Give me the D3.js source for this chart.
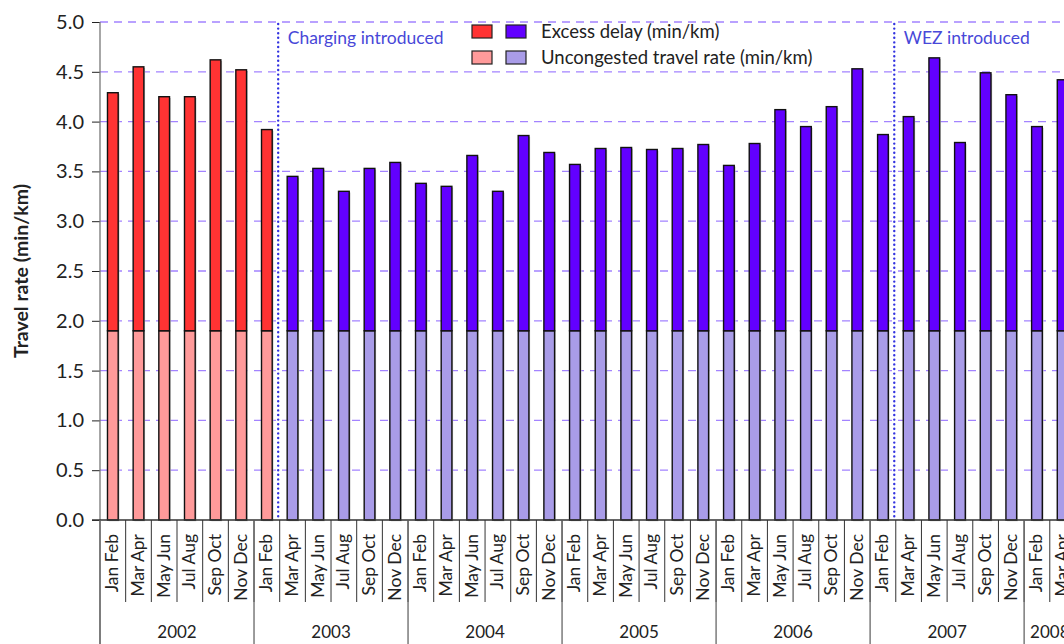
<!DOCTYPE html>
<html>
<head>
<meta charset="utf-8">
<style>
  body { margin: 0; background: white; overflow: hidden; }
  svg { display: block; font-family: Lato, "Open Sans", sans-serif; }
</style>
<script src="https://cdn.jsdelivr.net/npm/d3@7"></script>
</head>
<body>
<svg id="chart"></svg>
<script>
// two-monthly periods, Jan 2002 - Apr 2008
const periods = [
  "Jan Feb","Mar Apr","May Jun","Jul Aug","Sep Oct","Nov Dec",
  "Jan Feb","Mar Apr","May Jun","Jul Aug","Sep Oct","Nov Dec",
  "Jan Feb","Mar Apr","May Jun","Jul Aug","Sep Oct","Nov Dec",
  "Jan Feb","Mar Apr","May Jun","Jul Aug","Sep Oct","Nov Dec",
  "Jan Feb","Mar Apr","May Jun","Jul Aug","Sep Oct","Nov Dec",
  "Jan Feb","Mar Apr","May Jun","Jul Aug","Sep Oct","Nov Dec",
  "Jan Feb","Mar Apr"
]
const years = ["2002","2003","2004","2005","2006","2007","2008"]
const periodsPerYear = [6, 6, 6, 6, 6, 6, 2]

const uncongested = [
  1.9,1.9,1.9,1.9,1.9,1.9, 1.9,1.9,1.9,1.9,1.9,1.9,
  1.9,1.9,1.9,1.9,1.9,1.9, 1.9,1.9,1.9,1.9,1.9,1.9,
  1.9,1.9,1.9,1.9,1.9,1.9, 1.9,1.9,1.9,1.9,1.9,1.9,
  1.9,1.9
]
const excessDelay = [
  2.39,2.65,2.35,2.35,2.72,2.62,
  2.02,1.55,1.63,1.40,1.63,1.69,
  1.48,1.45,1.76,1.40,1.96,1.79,
  1.67,1.83,1.84,1.82,1.83,1.87,
  1.66,1.88,2.22,2.05,2.25,2.63,
  1.97,2.15,2.74,1.89,2.59,2.37,
  2.05,2.52
]
const yTicks = [0, 0.5, 1, 1.5, 2, 2.5, 3, 3.5, 4, 4.5, 5]

// index of first period after each event
const events = [
  {label: "Charging introduced", index: 7},
  {label: "WEZ introduced", index: 31}
]

const width = 1064, height = 644
const plotLeft = 100, plotTop = 22, plotBottom = 520
const step = 25.67

let rows = periods.map((p, i) => ({
  id: i, period: p, base: uncongested[i], excess: excessDelay[i],
  pre: i < events[0].index
}))

let svg = d3.select("#chart").attr("width", width).attr("height", height)

let x = d3.scaleBand()
  .domain(rows.map(d => d.id))
  .range([plotLeft, plotLeft + step * rows.length])

let y = d3.scaleLinear().domain([0, 5]).range([plotBottom, plotTop])

// gridlines
svg.append("g").selectAll("line").data(yTicks.filter(t => t > 0))
  .enter().append("line")
  .attr("x1", plotLeft).attr("x2", width)
  .attr("y1", d => y(d)).attr("y2", d => y(d))
  .attr("stroke", "#a383ff")
  .attr("stroke-width", 1.3)
  .attr("stroke-dasharray", "8,6")

// y axis
let yAxis = d3.axisLeft(y).tickValues(yTicks).tickFormat(d3.format(".1f")).tickSize(8).tickPadding(8)
let ya = svg.append("g").attr("transform", `translate(${plotLeft},0)`).call(yAxis)
ya.select(".domain").remove()
ya.selectAll(".tick line").attr("stroke", "#222")
ya.selectAll("text").attr("font-size", 20).attr("fill", "#222").attr("font-family", "Lato, sans-serif")
svg.append("line").attr("x1", plotLeft).attr("x2", plotLeft).attr("y1", plotTop).attr("y2", height)
  .attr("stroke", "#777").attr("stroke-width", 1.3)

svg.append("text")
  .attr("transform", `translate(28,${(plotTop + plotBottom) / 2}) rotate(-90)`)
  .attr("text-anchor", "middle")
  .attr("font-size", 19.5).attr("font-weight", "bold").attr("fill", "#222")
  .text("Travel rate (min/km)")

// event lines
svg.append("g").selectAll("line").data(events).enter().append("line")
  .attr("x1", d => x(d.index) - 1.5).attr("x2", d => x(d.index) - 1.5)
  .attr("y1", plotTop + 2).attr("y2", plotBottom)
  .attr("stroke", "#3333e0").attr("stroke-width", 2.4)
  .attr("stroke-linecap", "round")
  .attr("stroke-dasharray", "0,4.6")
svg.append("g").selectAll("text").data(events).enter().append("text")
  .attr("x", d => x(d.index) + 8).attr("y", 44)
  .attr("font-size", 17.5).attr("fill", "#4848d8")
  .text(d => d.label)

// bars
let bw = 10.7
let bars = svg.append("g").selectAll("g").data(rows).enter().append("g")
let cx = d => x(d.id) + x.bandwidth() / 2 - bw / 2

bars.append("rect")
  .attr("x", d => cx(d) + 1.2).attr("y", d => y(d.base + d.excess) + 1.2)
  .attr("width", bw).attr("height", d => plotBottom - y(d.base + d.excess))
  .attr("fill", "#bbb")
bars.append("rect")
  .attr("x", cx).attr("y", d => y(d.base))
  .attr("width", bw).attr("height", d => plotBottom - y(d.base))
  .attr("fill", d => d.pre ? "#ff9a9a" : "#a99ce8")
  .attr("stroke", "#111").attr("stroke-width", 1.4)
bars.append("rect")
  .attr("x", cx).attr("y", d => y(d.base + d.excess))
  .attr("width", bw).attr("height", d => y(d.base) - y(d.base + d.excess))
  .attr("fill", d => d.pre ? "#ff3333" : "#6200ff")
  .attr("stroke", "#111").attr("stroke-width", 1.4)

// x axis baseline
svg.append("line").attr("x1", plotLeft - 8).attr("x2", width).attr("y1", plotBottom).attr("y2", plotBottom)
  .attr("stroke", "#333").attr("stroke-width", 1.3)

// period separators and labels
svg.append("g").selectAll("line").data(rows).enter().append("line")
  .attr("x1", d => x(d.id) + step).attr("x2", d => x(d.id) + step)
  .attr("y1", plotBottom).attr("y2", 602)
  .attr("stroke", "#333").attr("stroke-width", 1)
svg.append("g").selectAll("text").data(rows).enter().append("text")
  .attr("transform", d => `translate(${x(d.id) + x.bandwidth() / 2 + 1},534) rotate(-90)`)
  .attr("text-anchor", "end").attr("dominant-baseline", "middle")
  .attr("font-size", 17.5).attr("fill", "#222")
  .text(d => d.period)

// year groups
let starts = []
let acc = 0
periodsPerYear.forEach(n => { starts.push(acc); acc += n })
let yearRows = years.map((yr, i) => ({year: yr, start: starts[i], n: periodsPerYear[i]}))

svg.append("g").selectAll("line").data(yearRows).enter().append("line")
  .attr("x1", d => x(d.start)).attr("x2", d => x(d.start))
  .attr("y1", plotBottom).attr("y2", height)
  .attr("stroke", "#666").attr("stroke-width", 1.3)
svg.append("g").selectAll("text").data(yearRows).enter().append("text")
  .attr("x", d => x(d.start) + d.n * step / 2)
  .attr("y", 638)
  .attr("text-anchor", "middle")
  .attr("font-size", 17).attr("fill", "#222")
  .text(d => d.year)

// legend
let legend = [
  {label: "Excess delay (min/km)", colors: ["#ff3333", "#6200ff"]},
  {label: "Uncongested travel rate (min/km)", colors: ["#ff9a9a", "#a99ce8"]}
]
let lg = svg.append("g").selectAll("g").data(legend).enter().append("g")
  .attr("transform", (d, i) => `translate(472,${25 + i * 26})`)
lg.selectAll("rect").data(d => d.colors).enter().append("rect")
  .attr("x", (d, i) => i * 34).attr("y", 0)
  .attr("width", 20).attr("height", 13)
  .attr("fill", d => d).attr("stroke", "#222").attr("stroke-width", 1.2)
lg.append("text")
  .attr("x", 69).attr("y", 13)
  .attr("font-size", 18.5).attr("fill", "#222")
  .text(d => d.label)
</script>
</body>
</html>
